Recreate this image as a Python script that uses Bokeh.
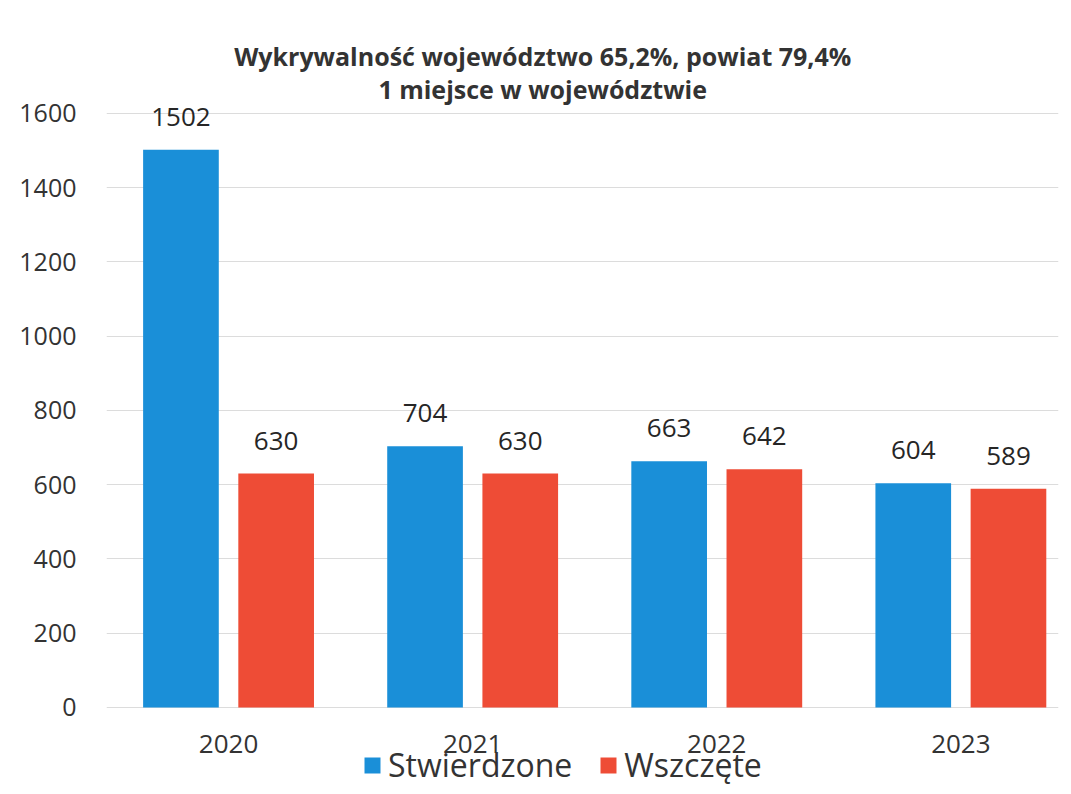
from bokeh.plotting import figure
from bokeh.models import ColumnDataSource, Range1d, FixedTicker, Legend, LegendItem, Label
from bokeh.transform import dodge
from bokeh.embed import file_html
from bokeh.resources import INLINE
from bokeh.core.properties import value

years = ["2020", "2021", "2022", "2023"]
stwierdzone = [1502, 704, 663, 604]
wszczete = [630, 630, 642, 589]
y_ticks = [0, 200, 400, 600, 800, 1000, 1200, 1400, 1600]
title_line1 = "Wykrywalność województwo 65,2%, powiat 79,4%"
title_line2 = "1 miejsce w województwie"
series_names = ["Stwierdzone", "Wszczęte"]

BLUE = "#1a8fd8"
RED = "#ee4c36"
FONT = "Open Sans"

xs = list(range(len(years)))
src = ColumnDataSource(dict(
    x=xs,
    zero=[0] * len(years),
    year=years,
    s=stwierdzone,
    w=wszczete,
    s_lab=[str(v) for v in stwierdzone],
    w_lab=[str(v) for v in wszczete],
))

p = figure(width=1063, height=790, output_backend="svg", toolbar_location=None,
           x_range=Range1d(-0.5, 3.40), y_range=Range1d(-223.6, 1877.4),
           min_border_left=106, min_border_right=5, min_border_top=10, min_border_bottom=0)
p.outline_line_color = None
p.background_fill_color = "white"

off = 0.195
bw = 0.31
r1 = p.vbar(x=dodge("x", -off, range=p.x_range), top="s", width=bw, bottom=0,
            source=src, fill_color=BLUE, line_color=None)
r2 = p.vbar(x=dodge("x", off, range=p.x_range), top="w", width=bw, bottom=0,
            source=src, fill_color=RED, line_color=None)

p.text(x=dodge("x", -off, range=p.x_range), y="s", text="s_lab", source=src,
       text_align="center", text_baseline="middle", y_offset=-33,
       text_font=value(FONT), text_font_size="26px", text_color="#262626")
p.text(x=dodge("x", off, range=p.x_range), y="w", text="w_lab", source=src,
       text_align="center", text_baseline="middle", y_offset=-33,
       text_font=value(FONT), text_font_size="26px", text_color="#262626")

# category labels under the bars
p.text(x="x", y="zero", text="year", source=src,
       text_align="center", text_baseline="middle", y_offset=37,
       text_font=value(FONT), text_font_size="26px", text_color="#333333")

# axes
p.xaxis.visible = False

p.yaxis.ticker = FixedTicker(ticks=y_ticks)
p.yaxis.axis_line_color = None
p.yaxis.major_tick_line_color = None
p.yaxis.minor_tick_line_color = None
p.yaxis.major_label_standoff = 24
p.yaxis.major_label_text_font = FONT
p.yaxis.major_label_text_font_size = "25px"
p.yaxis.major_label_text_color = "#333333"

p.xgrid.grid_line_color = None
p.ygrid.ticker = FixedTicker(ticks=y_ticks)
p.ygrid.grid_line_color = "#dcdcdc"
p.ygrid.grid_line_width = 1

# title
for txt, yy in [(title_line1, 1756), (title_line2, 1667)]:
    p.add_layout(Label(x=1.287, y=yy, text=txt, text_align="center", text_baseline="middle",
                       text_font=FONT, text_font_style="bold", text_font_size="25px",
                       text_color="#333333"))

legend = Legend(items=[LegendItem(label=series_names[0], renderers=[r1]),
                       LegendItem(label=series_names[1], renderers=[r2])],
                orientation="horizontal", location=(256, 4),
                label_text_font=FONT, label_text_font_size="32px", label_text_color="#333333",
                glyph_width=20, glyph_height=20, padding=0, margin=0, spacing=26,
                label_standoff=6, border_line_color=None, background_fill_alpha=0)
p.add_layout(legend)

open("out.html", "w").write(file_html(p, INLINE))
